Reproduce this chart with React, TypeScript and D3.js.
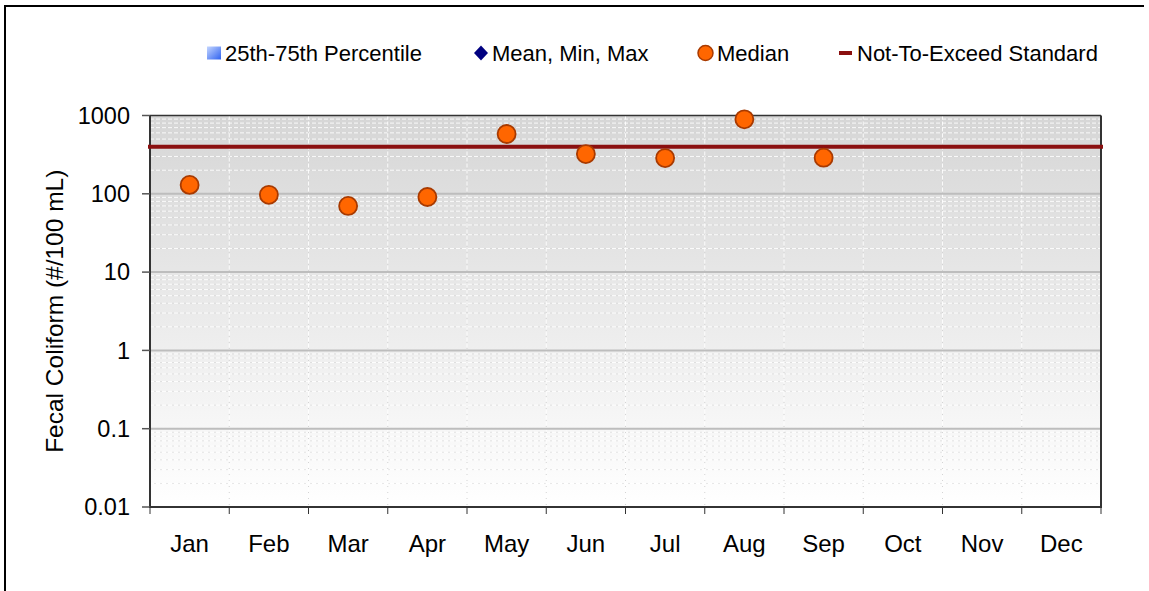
import React from "react";
import * as d3 from "d3";

const months = ["Jan", "Feb", "Mar", "Apr", "May", "Jun", "Jul", "Aug", "Sep", "Oct", "Nov", "Dec"];
const medianValues: (number | null)[] = [130, 97, 70, 91, 580, 322, 286, 894, 289, null, null, null];
const standardValue = 400;
const yTickValues = [0.01, 0.1, 1, 10, 100, 1000];
const yTickLabels = ["0.01", "0.1", "1", "10", "100", "1000"];
const legendItems = ["25th-75th Percentile", "Mean, Min, Max", "Median", "Not-To-Exceed Standard"];

const W = 1149;
const H = 591;
const plot = { left: 150, right: 1101, top: 115.5, bottom: 507 };
const FONT = "'Liberation Sans', Arial, sans-serif";

export default function App() {
  const x = d3.scaleBand<string>().domain(months).range([plot.left, plot.right]).padding(0);
  const y = d3.scaleLog().domain([0.01, 1000]).range([plot.bottom, plot.top]);

  const minorTicks: number[] = [];
  for (let e = -2; e < 3; e++) {
    for (let m = 2; m <= 9; m++) minorTicks.push(m * Math.pow(10, e));
  }
  const bandEdges = months.map((m) => x(m) as number).concat([plot.right]);

  return (
    <div style={{ position: "fixed", left: 0, top: 0, width: W, height: H, background: "#fff" }}>
      <svg width={W} height={H} style={{ display: "block", fontFamily: FONT }}>
        <defs>
          <linearGradient id="bgGrad" x1="0" y1="0" x2="0" y2="1">
            <stop offset="0" stopColor="#d6d6d6" />
            <stop offset="1" stopColor="#ffffff" />
          </linearGradient>
          <linearGradient id="legSq" x1="0" y1="0" x2="1" y2="1">
            <stop offset="0" stopColor="#c4d6ff" />
            <stop offset="1" stopColor="#2f62f0" />
          </linearGradient>
        </defs>
        {/* outer frame */}
        <line x1={5} y1={6} x2={1144} y2={6} stroke="#000" strokeWidth={2} />
        <line x1={5} y1={5} x2={5} y2={H} stroke="#000" strokeWidth={2} />

        {/* plot background */}
        <rect x={plot.left} y={plot.top} width={plot.right - plot.left} height={plot.bottom - plot.top} fill="url(#bgGrad)" />

        {/* minor gridlines */}
        {minorTicks.map((v, i) => (
          <g key={"mn" + i}>
            <line x1={plot.left} x2={plot.right} y1={y(v)} y2={y(v)} stroke="#ffffff" strokeOpacity={0.85} strokeWidth={1} strokeDasharray="4,2" />
            <line x1={plot.left} x2={plot.right} y1={y(v)} y2={y(v)} stroke="#cfcfcf" strokeWidth={1} strokeDasharray="1,5" strokeDashoffset={-4.5} />
          </g>
        ))}
        {/* vertical gridlines */}
        {bandEdges.slice(1, -1).map((bx, i) => (
          <g key={"vg" + i}>
            <line x1={bx} x2={bx} y1={plot.top} y2={plot.bottom} stroke="#ffffff" strokeOpacity={0.85} strokeWidth={1} strokeDasharray="4,2" />
            <line x1={bx} x2={bx} y1={plot.top} y2={plot.bottom} stroke="#d4d4d4" strokeWidth={1} strokeDasharray="1,5" strokeDashoffset={-4.5} />
          </g>
        ))}
        {/* major gridlines */}
        {yTickValues.slice(1, -1).map((v, i) => (
          <line key={"mj" + i} x1={plot.left} x2={plot.right} y1={y(v)} y2={y(v)} stroke="#bdbdbd" strokeWidth={2} />
        ))}

        {/* plot border */}
        <line x1={plot.left} x2={plot.right} y1={plot.top} y2={plot.top} stroke="#333" strokeWidth={1.5} />
        <line x1={plot.right} x2={plot.right} y1={plot.top} y2={plot.bottom + 1} stroke="#333" strokeWidth={2} />
        <line x1={plot.left} x2={plot.right + 1} y1={plot.bottom} y2={plot.bottom} stroke="#333" strokeWidth={2} />
        <line x1={plot.left} x2={plot.left} y1={plot.top} y2={plot.bottom + 1} stroke="#333" strokeWidth={2} />

        {/* y ticks */}
        {yTickValues.map((v, i) => (
          <g key={"yt" + i}>
            <line x1={142} x2={plot.left} y1={y(v)} y2={y(v)} stroke="#555" strokeWidth={1.5} />
            <text x={130} y={y(v)} dy="0.35em" textAnchor="end" fontSize={23.5} fill="#000">
              {yTickLabels[i]}
            </text>
          </g>
        ))}
        {/* x ticks */}
        {bandEdges.map((bx, i) => (
          <line key={"xt" + i} x1={bx} x2={bx} y1={plot.bottom} y2={514} stroke="#333" strokeWidth={1} />
        ))}
        {months.map((m) => (
          <text key={m} x={(x(m) as number) + x.bandwidth() / 2} y={551.5} textAnchor="middle" fontSize={24} fill="#000">
            {m}
          </text>
        ))}

        {/* axis title */}
        <text transform={`translate(63, ${(plot.top + plot.bottom) / 2}) rotate(-90)`} textAnchor="middle" fontSize={24.5} fill="#000">
          Fecal Coliform (#/100 mL)
        </text>

        {/* standard line */}
        <line x1={plot.left - 2} x2={plot.right + 2} y1={y(standardValue)} y2={y(standardValue)} stroke="#8a0f0f" strokeWidth={4} />

        {/* median markers */}
        {months.map((m, i) => {
          const v = medianValues[i];
          if (v == null) return null;
          return (
            <circle key={"md" + m} cx={(x(m) as number) + x.bandwidth() / 2} cy={y(v)} r={9} fill="#ff6600" stroke="#a83a00" strokeWidth={1.8} />
          );
        })}

        {/* legend */}
        <rect x={207} y={46.5} width={14} height={13} fill="url(#legSq)" />
        <text x={225} y={60.5} fontSize={22} fill="#000">{legendItems[0]}</text>
        <path d="M481,45.5 L488,53 L481,60.5 L474,53 Z" fill="#000080" />
        <text x={492} y={60.5} fontSize={22} fill="#000">{legendItems[1]}</text>
        <circle cx={705.5} cy={53} r={7.5} fill="#ff6600" stroke="#a83a00" strokeWidth={1.5} />
        <text x={717} y={60.5} fontSize={22} fill="#000">{legendItems[2]}</text>
        <line x1={839} x2={852} y1={53} y2={53} stroke="#8a0f0f" strokeWidth={4} />
        <text x={857} y={60.5} fontSize={22} fill="#000">{legendItems[3]}</text>
      </svg>
    </div>
  );
}
